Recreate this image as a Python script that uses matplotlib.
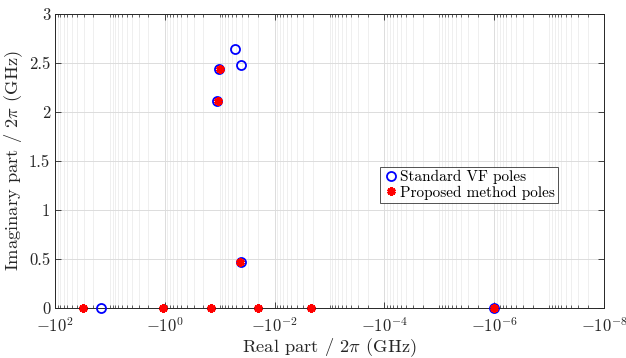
import matplotlib
matplotlib.use("Agg")
import matplotlib.pyplot as plt
from matplotlib.ticker import FixedLocator, LogLocator, NullFormatter
import numpy as np

# LaTeX-like look, as in the MATLAB original
plt.rcParams["font.family"] = "serif"
plt.rcParams["font.serif"] = ["cmr10"]
plt.rcParams["mathtext.fontset"] = "cm"
plt.rcParams["axes.unicode_minus"] = False
plt.rcParams["axes.formatter.use_mathtext"] = True

# poles (real part / 2pi, imaginary part / 2pi), in GHz
vf_real = [-14.5, -0.112, -0.103, -0.0526, -0.041, -0.041, -1.0e-6]
vf_imag = [0.0, 2.11, 2.44, 2.64, 2.48, 0.47, 0.0]

prop_real = [-31.0, -1.08, -0.144, -0.107, -0.100, -0.043, -0.020, -0.0022, -1.0e-6]
prop_imag = [0.0, 0.0, 0.0, 2.11, 2.44, 0.47, 0.0, 0.0, 0.0]

xtick_exp = [2, 0, -2, -4, -6, -8]
yticks = [0, 0.5, 1, 1.5, 2, 2.5, 3]

fig = plt.figure(figsize=(6.26, 3.58), dpi=100)
ax = fig.add_axes([0.088, 0.14, 0.877, 0.822])

# negative real parts drawn on a log scale of their magnitude, axis reversed
ax.plot(-np.array(vf_real), vf_imag, "o", color="blue", mfc="none",
        ms=6.5, mew=1.3, linestyle="none", clip_on=False, zorder=3,
        label="Standard VF poles")
ax.plot(-np.array(prop_real), prop_imag, marker=(6, 2, 0), color="red",
        ms=6, mew=2.2, linestyle="none", clip_on=False, zorder=4,
        label="Proposed method poles")

ax.set_xscale("log")
ax.set_xlim(1e2, 1e-8)
ax.set_ylim(0, 3)

ax.xaxis.set_major_locator(FixedLocator([10.0 ** k for k in xtick_exp]))
ax.set_xticklabels(["$-10^{%d}$" % k for k in xtick_exp])
ax.xaxis.set_minor_locator(LogLocator(base=10, subs=np.arange(1, 10), numticks=100))
ax.xaxis.set_minor_formatter(NullFormatter())
ax.set_yticks(yticks)
ax.set_yticklabels(["0", "0.5", "1", "1.5", "2", "2.5", "3"])

ax.tick_params(which="both", direction="in", top=True, right=True,
               labelsize=12, colors="#262626")
ax.tick_params(which="major", length=4, width=0.6)
ax.tick_params(which="minor", length=2, width=0.5)
ax.tick_params(axis="x", pad=6)
for lab in ax.get_xticklabels() + ax.get_yticklabels():
    lab.set_color("#262626")

ax.grid(which="major", color="#dcdcdc", linewidth=0.7)
ax.grid(which="minor", axis="x", color="#ececec", linewidth=0.6)
ax.set_axisbelow(True)
for s in ax.spines.values():
    s.set_linewidth(0.7)
    s.set_color("#262626")

ax.set_xlabel("Real part / $2\\pi$ (GHz)", fontsize=13.3, color="#262626", labelpad=1)
ax.set_ylabel("Imaginary part / $2\\pi$ (GHz)", fontsize=13.3, color="#262626", labelpad=3)

leg = ax.legend(loc="lower left", bbox_to_anchor=(0.592, 0.357), fontsize=11,
                frameon=True, fancybox=False, edgecolor="#262626",
                borderpad=0.2, handletextpad=0.1, handlelength=1.0,
                labelspacing=0.1, borderaxespad=0)
leg.get_frame().set_linewidth(0.7)

fig.savefig("out.png", dpi=100)
